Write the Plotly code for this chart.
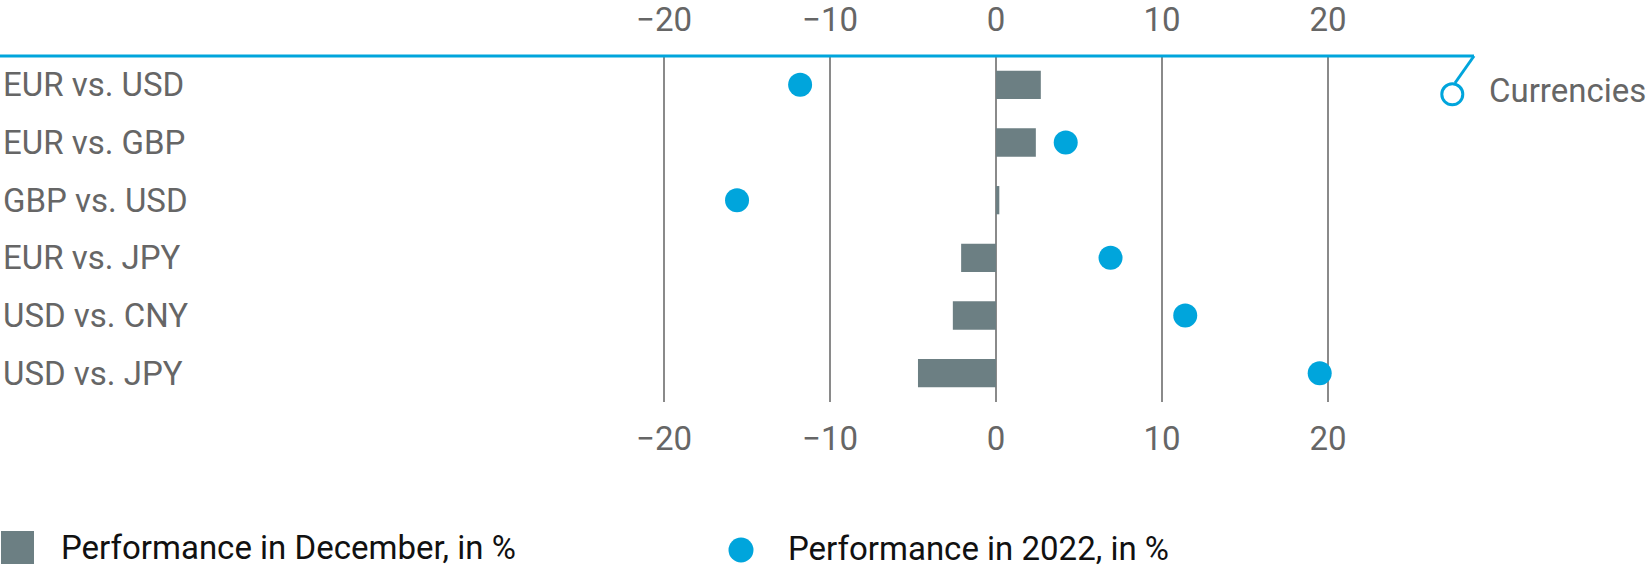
import plotly.graph_objects as go

categories = ["EUR vs. USD", "EUR vs. GBP", "GBP vs. USD", "EUR vs. JPY", "USD vs. CNY", "USD vs. JPY"]
perf_december = [2.7, 2.4, 0.2, -2.1, -2.6, -4.7]
perf_2022 = [-11.8, 4.2, -15.6, 6.9, 11.4, 19.5]
tick_vals = [-20, -10, 0, 10, 20]
tick_text = ["\u221220", "\u221210", "0", "10", "20"]

W, H = 1649, 569
T, B = 56, 167
PH = H - T - B
X0PIX, PPU = 996.0, 16.6  # zero position and pixels per unit
xr = [-X0PIX / PPU, (W - X0PIX) / PPU]

GREY_TXT = "#666666"
BAR_C = "#6c7f83"
DOT_C = "#00a5dc"
FONT = "Roboto"

def py(ypix):
    return (H - B - ypix) / PH

fig = go.Figure()
fig.add_trace(go.Bar(
    y=categories, x=perf_december, orientation="h", width=0.49,
    marker=dict(color=BAR_C, line=dict(width=0)), showlegend=False,
))
fig.add_trace(go.Scatter(
    y=categories, x=perf_2022, mode="markers",
    marker=dict(color=DOT_C, size=24, line=dict(width=0)), showlegend=False,
    xaxis="x2",
))

axis_common = dict(
    range=xr, tickvals=tick_vals, ticktext=tick_text, showgrid=True,
    gridcolor="#8a8a8a", gridwidth=2, zeroline=False, showline=False, ticks="",
    tickfont=dict(family=FONT, size=33, color=GREY_TXT),
)
fig.update_layout(
    width=W, height=H,
    margin=dict(l=0, r=0, t=T, b=B, pad=0),
    paper_bgcolor="white", plot_bgcolor="white",
    font=dict(family=FONT, size=33, color=GREY_TXT),
    xaxis=dict(**axis_common, side="bottom", ticklabelstandoff=14),
    xaxis2=dict(**axis_common, side="top", overlaying="x", matches="x", ticklabelstandoff=17),
    yaxis=dict(type="category", categoryorder="array", categoryarray=categories,
               range=[5.5, -0.5], showgrid=False, zeroline=False, showline=False,
               ticks="", ticklabelposition="inside",
               tickfont=dict(family=FONT, size=33, color=GREY_TXT)),
    bargap=0.5,
)

shapes = []
# blue top axis line with callout
shapes.append(dict(type="line", xref="paper", yref="paper", x0=0, x1=1474 / W, y0=1, y1=1,
                   line=dict(color=DOT_C, width=3), layer="above"))
shapes.append(dict(type="line", xref="paper", yref="paper", x0=1474 / W, x1=1455 / W,
                   y0=1, y1=py(83), line=dict(color=DOT_C, width=3), layer="above"))
shapes.append(dict(type="circle", xref="paper", yref="paper",
                   xsizemode="pixel", ysizemode="pixel",
                   xanchor=1452.3 / W, yanchor=py(94.3),
                   x0=-10.5, x1=10.5, y0=-10.5, y1=10.5,
                   line=dict(color=DOT_C, width=3), fillcolor="white", layer="above"))
# legend markers
shapes.append(dict(type="rect", xref="paper", yref="paper", x0=1 / W, x1=34 / W,
                   y0=py(564), y1=py(531), fillcolor=BAR_C, line=dict(width=0)))
shapes.append(dict(type="circle", xref="paper", yref="paper",
                   xsizemode="pixel", ysizemode="pixel",
                   xanchor=741 / W, yanchor=py(550),
                   x0=-12.5, x1=12.5, y0=-12.5, y1=12.5,
                   fillcolor=DOT_C, line=dict(width=0)))
fig.update_layout(shapes=shapes)

annotations = [
    dict(text="Currencies", xref="paper", yref="paper", x=1487 / W, y=py(90),
         xanchor="left", yanchor="middle", showarrow=False,
         font=dict(family=FONT, size=33, color=GREY_TXT)),
    dict(text="Performance in December, in %", xref="paper", yref="paper", x=59 / W, y=py(547),
         xanchor="left", yanchor="middle", showarrow=False,
         font=dict(family=FONT, size=33, color="#111111")),
    dict(text="Performance in 2022, in %", xref="paper", yref="paper", x=786 / W, y=py(548),
         xanchor="left", yanchor="middle", showarrow=False,
         font=dict(family=FONT, size=33, color="#111111")),
]
fig.update_layout(annotations=annotations)

fig.write_html(
    "out.html",
    config={"displayModeBar": False},
    post_script="document.body.style.margin='0';document.body.style.overflow='hidden';",
)
